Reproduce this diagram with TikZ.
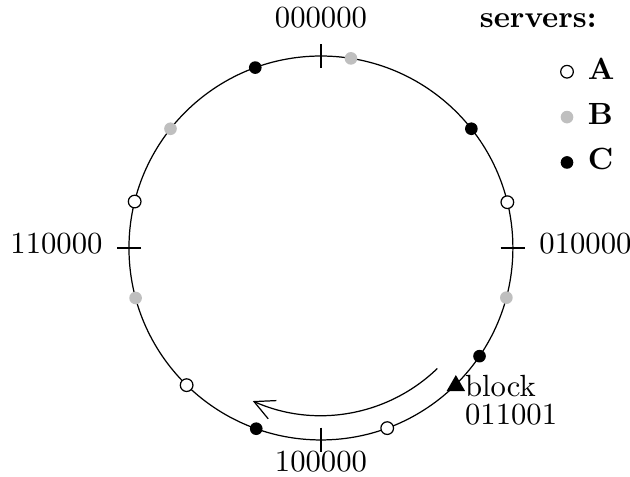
\documentclass[tikz,border=0pt]{standalone}
\usepackage{amsmath, amssymb}
\usepackage{xcolor}
\usepackage{tikz}
\usetikzlibrary{shapes,arrows.meta,positioning,calc}

\begin{document}
\begin{tikzpicture}[
    srvA/.style={circle, draw, fill=white, inner sep=0pt, minimum size=0.145cm},
    srvB/.style={circle, fill=lightgray, inner sep=0pt, minimum size=0.145cm},
    srvC/.style={circle, fill=black, inner sep=0pt, minimum size=0.145cm},
    blockmark/.style={regular polygon, regular polygon sides=3, fill=black, inner sep=0pt, minimum size=0.245cm},
    keylabel/.style={font=\normalsize},
    sweep/.style={-{Straight Barb[length=6.5pt,width=6.5pt]}}
]
\useasboundingbox (-3.678,-2.624) rectangle (3.542,2.842);

% Ring and its quarter ticks
\draw (0,0) circle (2.2);
\foreach \a in {0,90,180,270}
    \draw (\a:2.06) -- (\a:2.34);

% Key labels
\node[keylabel, anchor=base] (k0) at (0,2.53) {000000};
\node[keylabel, anchor=west] (k1) at (2.38,0.05) {010000};
\node[keylabel, anchor=north] (k2) at (0,-2.2) {100000};
\node[keylabel, anchor=east] (k3) at (-2.38,0.05) {110000};

% Server positions on the ring
\foreach \a/\s [count=\i] in {110/srvC, 81/srvB, 38.4/srvC, 13.8/srvA, -15/srvB, -34.3/srvC,
    -69.8/srvA, -109.7/srvC, -134.4/srvA, -164.9/srvB, 166/srvA, 141.6/srvB}
    \node[\s] (p\i) at (\a:2.2) {};

% Block and lookup direction
\node[blockmark] (blk) at (-45.6:2.21) {};
\node[anchor=base west, inner sep=0pt] (blkname) at (1.645,-1.70) {block};
\node[anchor=base west, inner sep=0pt] (blkkey) at ([yshift=-0.32cm]blkname.base west) {011001};
\coordinate (sw) at (-46:1.92);
\draw[sweep] (sw) arc[start angle=-46, end angle=-114, radius=1.92];

% Legend
\node[anchor=base] (srvtitle) at (2.49,2.53) {\textbf{servers:}};
\node[srvA] (lgA) at (2.82,2.02) {};
\node[srvB] (lgB) at (2.82,1.50) {};
\node[srvC] (lgC) at (2.82,0.98) {};
\node[right=1pt of lgA, yshift=1pt] (nmA) {\textbf{A}};
\node[right=1pt of lgB, yshift=1pt] (nmB) {\textbf{B}};
\node[right=1pt of lgC, yshift=1pt] (nmC) {\textbf{C}};

\end{tikzpicture}
\end{document}
